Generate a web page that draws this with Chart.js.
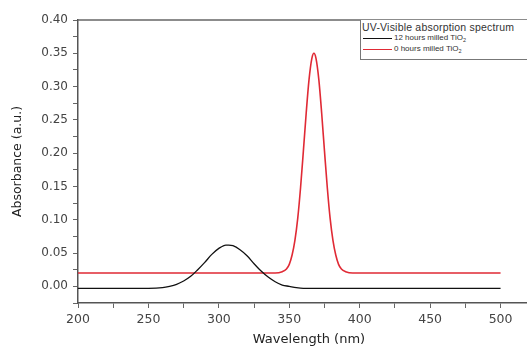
<!DOCTYPE html>
<html><head><meta charset="utf-8">
<script src="https://cdn.jsdelivr.net/npm/chart.js@4/dist/chart.umd.min.js"></script>
<style>
html,body{margin:0;padding:0;background:#fff;overflow:hidden;width:527px;height:347px;}
#wrap{position:absolute;left:0;top:0;width:540px;height:347px;}
#legend{position:absolute;left:360px;top:20px;width:180px;height:39px;border:1px solid #777;border-top:none;font-family:"Liberation Sans",Arial,sans-serif;color:#333;background:#fff;}
#legend .t{position:absolute;left:1px;top:1px;white-space:nowrap;font-size:10.5px;letter-spacing:0.2px;}
#legend .r{position:absolute;left:33px;white-space:nowrap;font-size:8px;}
#legend .s{position:absolute;left:2px;width:29px;height:0;}
sub{font-size:5.5px;vertical-align:-2px;}
</style></head>
<body>
<div id="wrap"><canvas id="c" width="540" height="347"></canvas></div>
<div id="legend">
  <div class="t">UV-Visible absorption spectrum</div>
  <div class="s" style="top:18px;border-top:1.3px solid #111;"></div>
  <div class="r" style="top:13px;">12 hours milled TiO<sub>2</sub></div>
  <div class="s" style="top:29px;border-top:1.5px solid #e02a35;"></div>
  <div class="r" style="top:24px;">0 hours milled TiO<sub>2</sub></div>
</div>
<script>
const blackX = [200,250,260,265,270,275,280,285,290,295,300,305,307,310,315,320,325,330,335,340,345,350,355,360,400,450,500];
const blackY = [-0.003,-0.003,-0.002,0.000,0.003,0.008,0.015,0.025,0.036,0.048,0.057,0.062,0.062,0.061,0.055,0.046,0.034,0.023,0.014,0.007,0.002,0.000,-0.002,-0.003,-0.003,-0.003,-0.003];
const redX = [200,250,300,340,345,348,350,352,354,356,358,360,362,364,366,367.5,369,371,373,375,377,379,381,383,385,387,390,395,450,500];
const redY = [0.020,0.020,0.020,0.020,0.022,0.026,0.033,0.047,0.069,0.102,0.148,0.203,0.260,0.310,0.342,0.350,0.342,0.310,0.260,0.203,0.148,0.102,0.069,0.047,0.033,0.026,0.022,0.020,0.020,0.020];
const xTickLabels = [200,250,300,350,400,450,500];
const yTickLabels = [0.00,0.05,0.10,0.15,0.20,0.25,0.30,0.35,0.40];

const toPts = (xs, ys) => xs.map((x, i) => ({x: x, y: ys[i]}));

const topFrame = {
  id: 'topFrame',
  afterDraw(chart) {
    const a = chart.chartArea, ctx = chart.ctx;
    ctx.save();
    ctx.strokeStyle = '#666';
    ctx.lineWidth = 1.5;
    ctx.beginPath();
    ctx.moveTo(a.left, a.top);
    ctx.lineTo(a.right, a.top);
    ctx.stroke();
    ctx.restore();
  }
};

new Chart(document.getElementById('c'), {
  type: 'line',
  data: {
    datasets: [
      {label: '12 hours milled TiO2', data: toPts(blackX, blackY), borderColor: '#111', borderWidth: 1.3, pointRadius: 0, tension: 0.4, cubicInterpolationMode: 'monotone'},
      {label: '0 hours milled TiO2', data: toPts(redX, redY), borderColor: '#e02a35', borderWidth: 1.6, pointRadius: 0, tension: 0.4, cubicInterpolationMode: 'monotone'}
    ]
  },
  options: {
    responsive: false,
    animation: false,
    layout: {padding: {top: 20, left: 0, right: 0, bottom: 0}},
    plugins: {legend: {display: false}, tooltip: {enabled: false}},
    scales: {
      x: {
        type: 'linear', min: 200, max: 528,
        afterFit(s) { s.height = 44; },
        border: {color: '#555', width: 1.5},
        grid: {drawOnChartArea: false, tickLength: 5, color: '#666'},
        ticks: {
          stepSize: 25, includeBounds: false, autoSkip: false, maxRotation: 0,
          color: '#444', font: {family: 'DejaVu Sans', size: 12.5}, padding: 4,
          callback: v => xTickLabels.includes(v) ? String(v) : ''
        },
        title: {display: true, text: 'Wavelength (nm)', color: '#222', font: {family: 'DejaVu Sans', size: 13}, padding: {top: 0, bottom: 0}}
      },
      y: {
        type: 'linear', min: -0.025, max: 0.40,
        afterFit(s) { s.width = 78; },
        border: {color: '#555', width: 1.5},
        grid: {drawOnChartArea: false, tickLength: 5, color: '#666'},
        ticks: {
          stepSize: 0.025, includeBounds: false, autoSkip: false,
          color: '#444', font: {family: 'DejaVu Sans', size: 12}, padding: 5,
          callback: v => {
            const r = Math.round(v * 100) / 100;
            return (Math.abs(v - r) < 1e-6 && yTickLabels.some(t => Math.abs(t - r) < 1e-6)) ? r.toFixed(2) : '';
          }
        },
        title: {display: true, text: 'Absorbance (a.u.)', color: '#222', font: {family: 'DejaVu Sans', size: 12.5}, padding: {top: 10, bottom: 0}}
      }
    }
  },
  plugins: [topFrame]
});
</script>
</body></html>
